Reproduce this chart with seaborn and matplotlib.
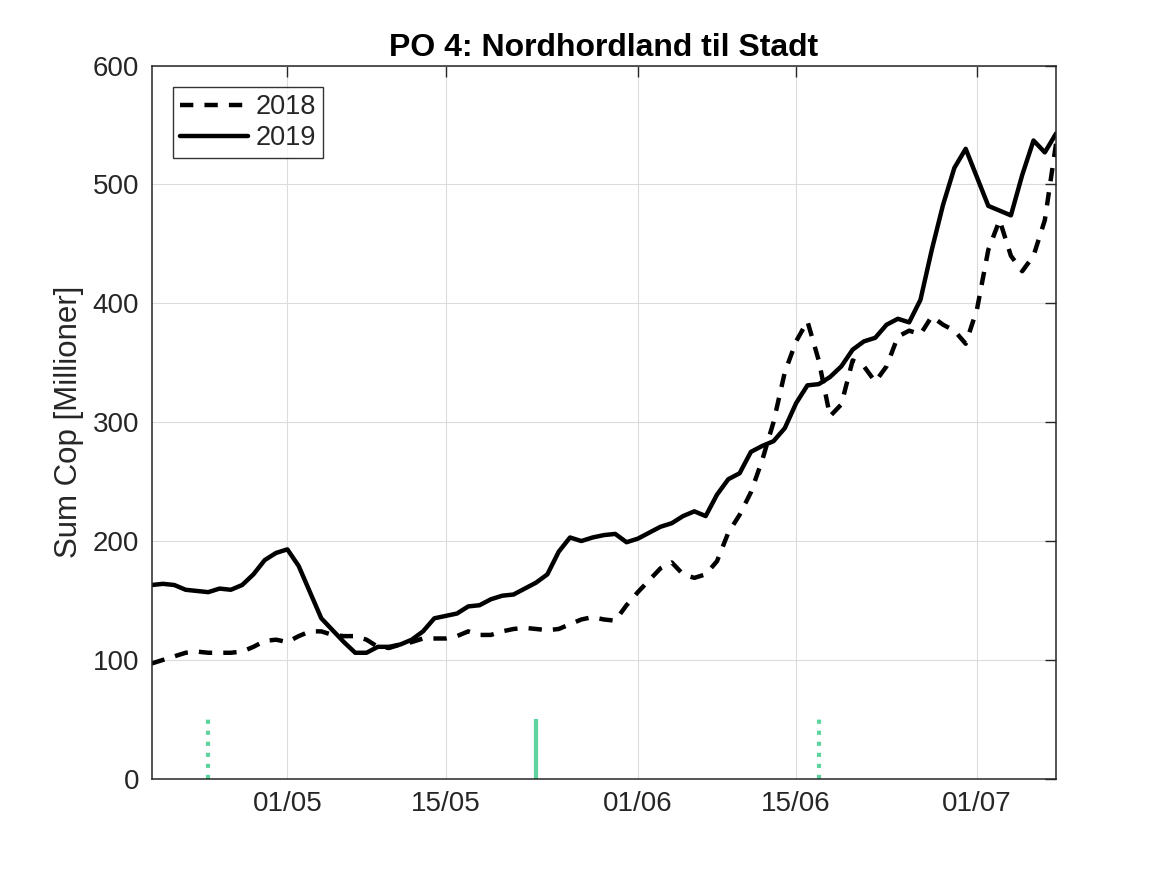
import pandas as pd
import matplotlib
matplotlib.use("Agg")
import matplotlib.pyplot as plt
import matplotlib.dates as mdates
import seaborn as sns

# daily values, 19/04 -> 08/07
start_date = "2019-04-19"
cop_2018 = [97, 100, 103, 106, 107, 106, 106, 106, 107, 111,
            116, 117, 115, 120, 124, 124, 121, 120, 120, 117,
            111, 110, 113, 115, 118, 118, 118, 120, 124, 121,
            121, 124, 126, 127, 126, 125, 126, 130, 134, 136,
            134, 133, 146, 157, 167, 177, 182, 172, 169, 172,
            183, 207, 222, 241, 268, 300, 342, 368, 385, 352,
            305, 315, 352, 347, 334, 347, 372, 377, 374, 389,
            382, 377, 366, 395, 445, 470, 440, 427, 440, 470,
            535]
cop_2019 = [163, 164, 163, 159, 158, 157, 160, 159, 163, 172,
            184, 190, 193, 179, 157, 135, 125, 115, 106, 106,
            111, 111, 113, 117, 124, 135, 137, 139, 145, 146,
            151, 154, 155, 160, 165, 172, 191, 203, 200, 203,
            205, 206, 199, 202, 207, 212, 215, 221, 225, 221,
            239, 252, 257, 275, 280, 284, 295, 316, 331, 332,
            338, 347, 361, 368, 371, 382, 387, 384, 403, 445,
            483, 514, 530, 506, 482, 478, 474, 508, 537, 527,
            543]
tick_dates = ["2019-05-01", "2019-05-15", "2019-06-01", "2019-06-15", "2019-07-01"]
marker_dates = ["2019-04-24", "2019-05-23", "2019-06-17"]
marker_styles = [":", "-", ":"]
marker_height = 50

dates = pd.date_range(start_date, periods=len(cop_2019), freq="D")
df = pd.DataFrame({"date": dates, "2018": cop_2018, "2019": cop_2019})

sns.set_theme(style="white")
plt.rcParams["font.family"] = ["Liberation Sans", "DejaVu Sans"]

fig = plt.figure(figsize=(11.67, 8.75), dpi=100)
ax = fig.add_axes([0.13, 0.11, 0.775, 0.815])

sns.lineplot(data=df, x="date", y="2018", ax=ax, color="black", linewidth=3.2,
             label="2018", dashes=False)
ax.lines[-1].set_dashes((3.0, 2.5))
sns.lineplot(data=df, x="date", y="2019", ax=ax, color="black", linewidth=3.2,
             label="2019")

green = "#5dd39e"
for d, ls in zip(marker_dates, marker_styles):
    ax.vlines(pd.Timestamp(d), 0, marker_height, colors=green, linestyles=ls,
              linewidth=3)

ax.set_xlim(dates[0], dates[-1])
ax.set_ylim(0, 600)
ax.set_yticks(range(0, 601, 100))
ax.set_xticks([pd.Timestamp(t) for t in tick_dates])
ax.xaxis.set_major_formatter(mdates.DateFormatter("%d/%m"))

ax.grid(True, color="#dcdcdc", linewidth=0.8)
ax.set_axisbelow(True)
for s in ax.spines.values():
    s.set_color("#262626")
    s.set_linewidth(1.1)
ax.tick_params(direction="in", length=8, width=1, color="#262626",
               labelcolor="#262626", labelsize=20, top=True, right=True, pad=9)

ax.set_xlabel("")
ax.set_ylabel("Sum Cop [Millioner]", fontsize=22.5, color="#262626", labelpad=6)
ax.set_title("PO 4: Nordhordland til Stadt", fontsize=23, fontweight="bold",
             color="black", pad=7)

leg = ax.legend(loc="upper left", fontsize=19.5, frameon=True, fancybox=False,
                edgecolor="black", handlelength=2.5, borderaxespad=0.8,
                handletextpad=0.3, borderpad=0.25, labelspacing=0.2)
leg.get_frame().set_linewidth(1.0)

fig.savefig("out.png", dpi=100)
